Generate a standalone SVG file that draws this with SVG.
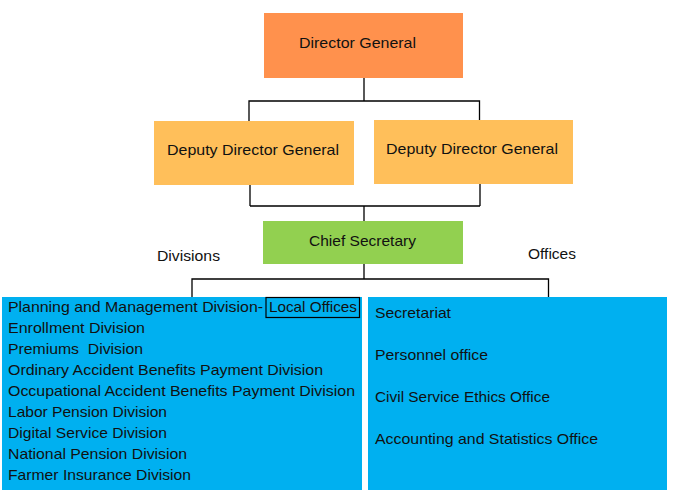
<svg xmlns="http://www.w3.org/2000/svg" width="673" height="499" viewBox="0 0 673 499">
<style>
text{font-family:"Liberation Sans",Arial,sans-serif;font-size:15px;fill:#111;}
.c{text-anchor:middle;}
.ln{fill:none;stroke:#000;stroke-width:1.3;}
</style>
<rect width="673" height="499" fill="#fff"/>
<g id="connectors">
<path class="ln" d="M364,78V101M249,121V101H479.5V120"/>
<path class="ln" d="M250,185V206M480,184V206M250,206H480M364,206V221"/>
<path class="ln" d="M364,264V279M192,297V279H548.5V297"/>
</g>
<g id="director-general">
<rect x="264" y="13" width="199" height="65" fill="#FF914D"/>
<text x="357.5" y="48" class="c" textLength="117" lengthAdjust="spacingAndGlyphs">Director General</text>
</g>
<g id="deputy-left">
<rect x="154" y="121" width="200" height="64" fill="#FFBF5A"/>
<text x="253" y="155" class="c" textLength="172" lengthAdjust="spacingAndGlyphs">Deputy Director General</text>
</g>
<g id="deputy-right">
<rect x="374" y="120" width="199" height="64" fill="#FFBF5A"/>
<text x="472" y="154" class="c" textLength="172" lengthAdjust="spacingAndGlyphs">Deputy Director General</text>
</g>
<g id="chief-secretary">
<rect x="263" y="221" width="200" height="43" fill="#92D050"/>
<text x="362.5" y="246" class="c" textLength="107" lengthAdjust="spacingAndGlyphs">Chief Secretary</text>
</g>
<g id="label-divisions"><text x="157" y="261" textLength="63" lengthAdjust="spacingAndGlyphs">Divisions</text></g>
<g id="label-offices"><text x="528" y="259" textLength="48" lengthAdjust="spacingAndGlyphs">Offices</text></g>
<g id="divisions">
<rect x="2" y="297" width="360" height="193" fill="#00B0F0"/>
<rect x="266" y="297.5" width="93.5" height="20" fill="none" stroke="#000" stroke-width="1.2"/>
<text x="8" y="311.5" textLength="255" lengthAdjust="spacingAndGlyphs">Planning and Management Division-</text>
<text x="269" y="311.5" textLength="88" lengthAdjust="spacingAndGlyphs">Local Offices</text>
<text x="8" y="332.5" textLength="137" lengthAdjust="spacingAndGlyphs">Enrollment Division</text>
<text x="8" y="353.5" textLength="135" lengthAdjust="spacingAndGlyphs" xml:space="preserve">Premiums  Division</text>
<text x="8" y="374.5" textLength="315" lengthAdjust="spacingAndGlyphs">Ordinary Accident Benefits Payment Division</text>
<text x="8" y="395.5" textLength="347" lengthAdjust="spacingAndGlyphs">Occupational Accident Benefits Payment Division</text>
<text x="8" y="416.5" textLength="159" lengthAdjust="spacingAndGlyphs">Labor Pension Division</text>
<text x="8" y="437.5" textLength="159" lengthAdjust="spacingAndGlyphs">Digital Service Division</text>
<text x="8" y="458.5" textLength="179" lengthAdjust="spacingAndGlyphs">National Pension Division</text>
<text x="8" y="479.5" textLength="183" lengthAdjust="spacingAndGlyphs">Farmer Insurance Division</text>
</g>
<g id="offices">
<rect x="368" y="297" width="299" height="193" fill="#00B0F0"/>
<text x="375" y="318" textLength="76" lengthAdjust="spacingAndGlyphs">Secretariat</text>
<text x="375" y="360" textLength="113" lengthAdjust="spacingAndGlyphs">Personnel office</text>
<text x="375" y="402" textLength="175" lengthAdjust="spacingAndGlyphs">Civil Service Ethics Office</text>
<text x="375" y="444" textLength="223" lengthAdjust="spacingAndGlyphs">Accounting and Statistics Office</text>
</g>
</svg>
